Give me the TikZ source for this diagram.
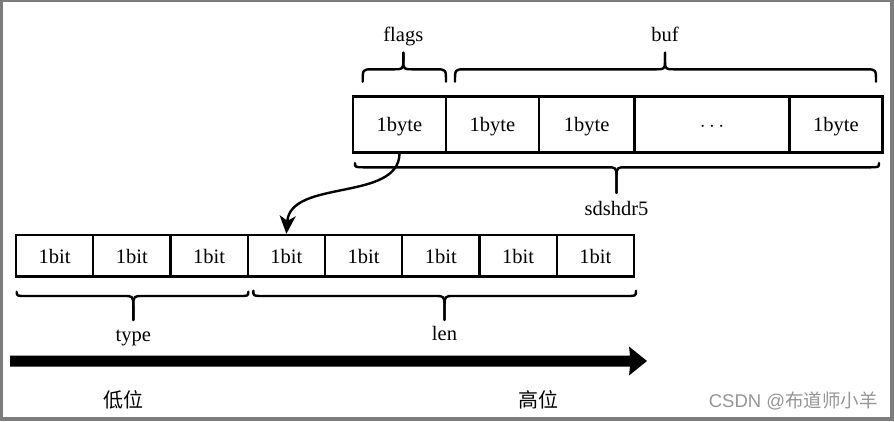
\documentclass[tikz,border=0pt]{standalone}
\usepackage{fontspec}
\setmainfont{Liberation Serif}
\newfontfamily\cjkfont{Noto Sans CJK SC}
\newfontfamily\wmfont{Liberation Sans}
\usetikzlibrary{arrows.meta}
\definecolor{framegray}{RGB}{125,125,125}
\definecolor{wmgray}{RGB}{150,150,150}
\newcommand\drawbrace[8]{%
  \draw[bracestyle] (#1,#4) .. controls (#1,#5) .. (#1+#8,#5) -- (#3-9,#5) .. controls (#3-1,#5) and (#3,#5) .. (#3,#6) -- (#3,#7);
  \draw[bracestyle] (#2,#4) .. controls (#2,#5) .. (#2-#8,#5) -- (#3+9,#5) .. controls (#3+1,#5) and (#3,#5) .. (#3,#6) -- (#3,#7);
}
\begin{document}
\begin{tikzpicture}[x=1pt,y=-1pt,
  cell/.style={draw=black, line width=2.4pt, inner sep=0pt, font=\fontsize{20.5}{22}\selectfont},
  topcell/.style={cell, minimum height=56pt, text height=16pt, text depth=2pt},
  bitcell/.style={cell, minimum height=41.5pt, minimum width=77.25pt, text height=17pt, text depth=2pt},
  lbl/.style={inner sep=0pt, anchor=base, font=\fontsize{20.5}{22}\selectfont},
  cjk/.style={inner sep=0pt, font=\cjkfont\fontsize{20}{22}\selectfont},
  bracestyle/.style={line width=2.4pt, line cap=round, line join=round},
  link/.style={line width=2.4pt, -{Stealth[length=18pt, width=16pt, inset=5pt]}},
  frame/.style={fill=framegray, draw=none}]
\useasboundingbox (0,0) rectangle (894,421);
\fill[white] (0,0) rectangle (894,421);
% frame
\fill[framegray] (0,0) rectangle (894,2);
\fill[framegray] (0,0) rectangle (2.5,421);
\fill[framegray] (889.5,0) rectangle (894,421);
\fill[framegray] (0,417) rectangle (894,421);
% top row (sdshdr5)
\node[topcell, minimum width=93pt] (b1) at (399.5,124.5) {1byte};
\node[topcell, minimum width=93pt] (b2) at (492.5,124.5) {1byte};
\node[topcell, minimum width=95.5pt] (b3) at (586.75,124.5) {1byte};
\node[topcell, minimum width=155pt] (b4) at (712,124.5) {$\cdotp\cdotp\cdotp$};
\node[topcell, minimum width=93pt] (b5) at (836,124.5) {1byte};
% bottom row (bits)
\foreach \i in {1,...,8}{
  \node[bitcell] (c\i) at ({16+77.25*(\i-0.5)},255.75) {1bit};
}
% braces
\drawbrace{362.7}{446}{403.3}{81.7}{69.3}{61}{52.7}{10}
\drawbrace{455}{876}{665}{81.7}{69.3}{61}{52.7}{10}
\drawbrace{355}{879}{616.5}{163}{167.3}{177}{193}{10}
\drawbrace{16.7}{248.3}{133.3}{291.7}{296}{306}{320}{10}
\drawbrace{253.3}{636}{444.5}{290.7}{296}{306}{320}{10}
% labels
\node[lbl] (flags) at (403.3,41) {flags};
\node[lbl] (buf) at (665,41) {buf};
\node[lbl] (sds) at (616.5,215) {sdshdr5};
\node[lbl] (type) at (133.3,341.5) {type};
\node[lbl] (len) at (444.5,340) {len};
% connector
\draw[link] (b1.south) .. controls +(-1,48) and +(4,-55) .. (c4.north);
% big direction arrow
\fill[black] (10,355.5) -- (630,355.5) -- (629,346.5) -- (647,361) -- (629,375.5) -- (630,366.5) -- (10,366.5) -- cycle;
\node[cjk] (low) at (123.5,400) {低位};
\node[cjk] (high) at (538,400) {高位};
% watermark
\node[inner sep=0pt, text=wmgray, font=\fontsize{18.5}{20}\selectfont] (wm) at (793.3,401) {\wmfont CSDN @\cjkfont 布道师小羊};
\end{tikzpicture}
\end{document}
